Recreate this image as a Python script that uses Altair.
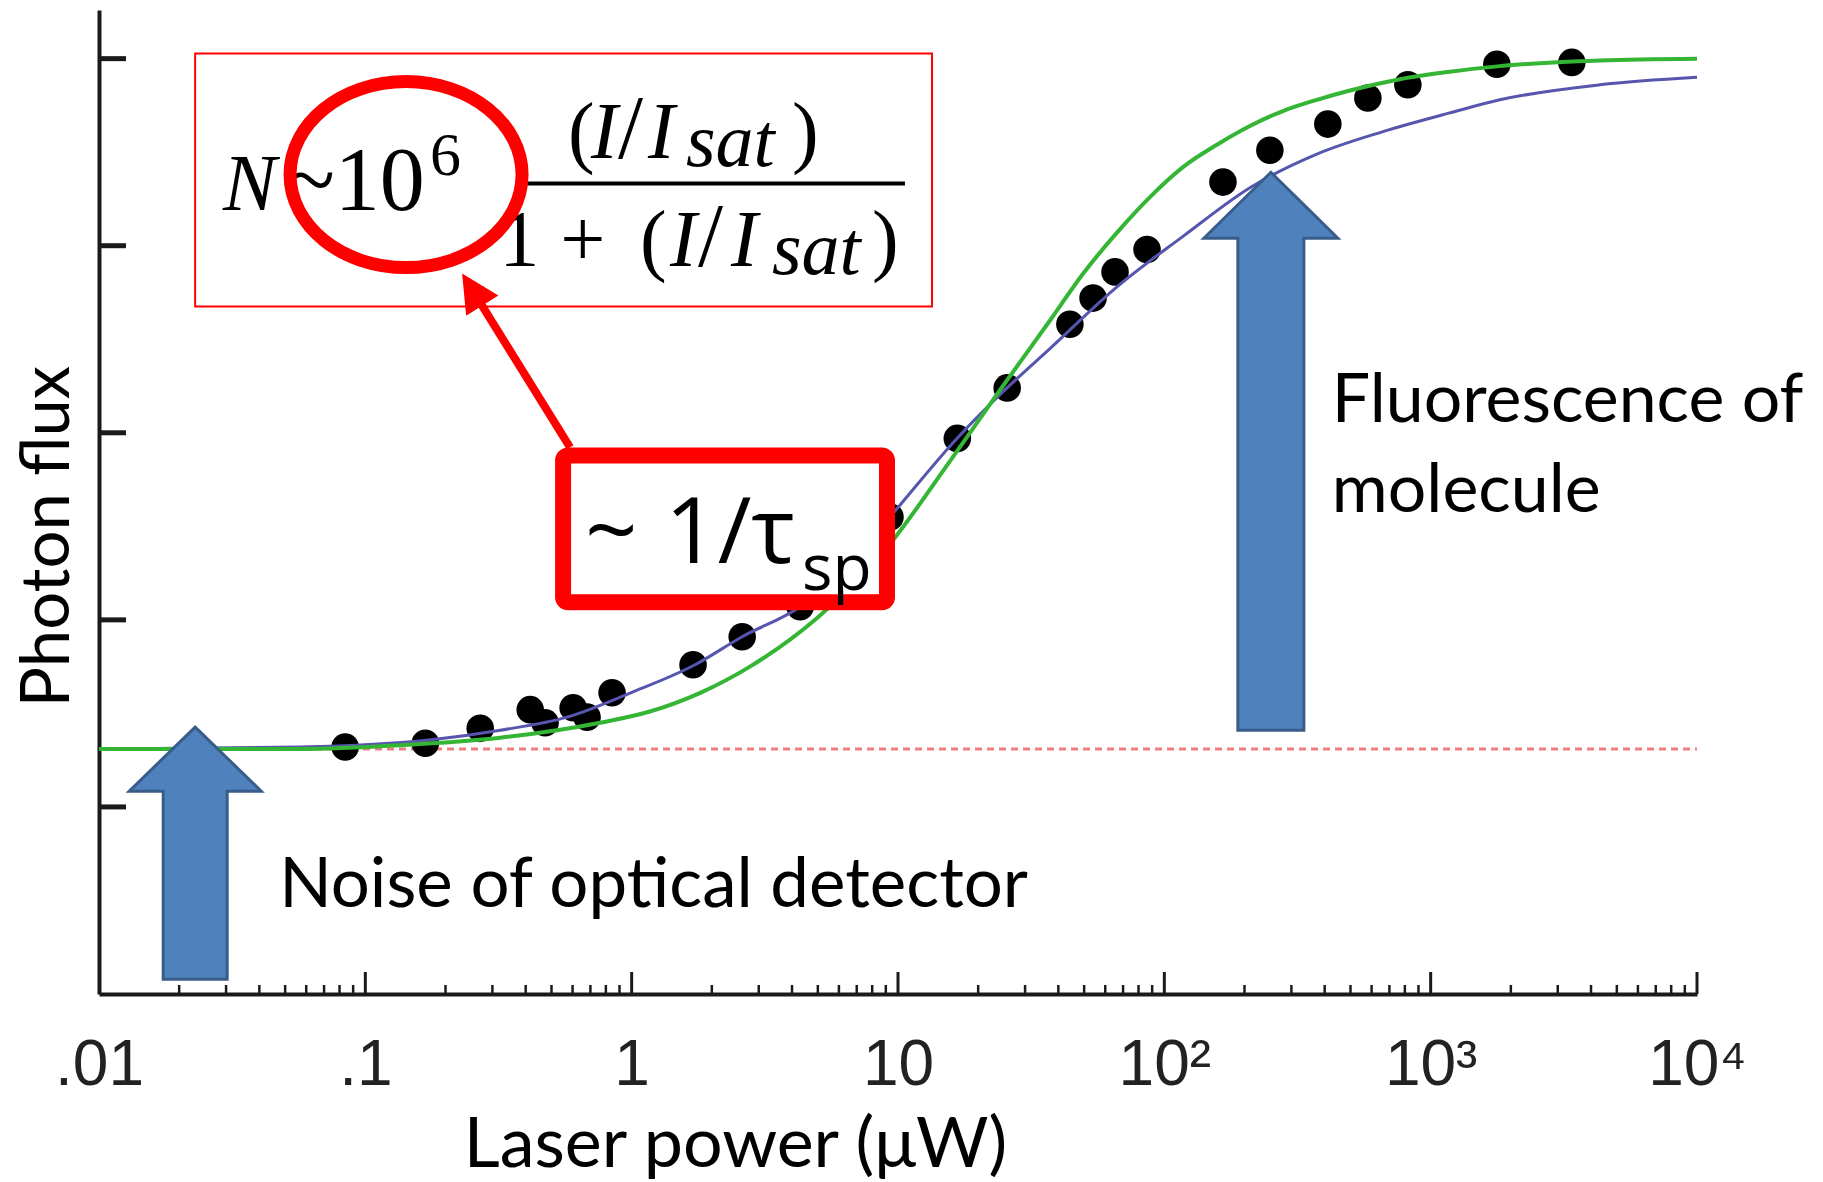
import altair as alt
import pandas as pd

# ---------------- values ----------------
dot_power = [0.084, 0.168, 0.270, 0.416, 0.473, 0.603, 0.680, 0.844, 1.70, 2.60, 4.29,
             9.33, 16.7, 25.7, 44.2, 54.0, 65.3, 86.1, 166, 249, 411, 581, 821, 1772, 3388]
dot_flux = [1.32, 1.34, 1.42, 1.52, 1.45, 1.53, 1.48, 1.61, 1.76, 1.91, 2.07,
            2.55, 2.97, 3.24, 3.58, 3.72, 3.86, 3.98, 4.34, 4.51, 4.65, 4.79, 4.86, 4.97, 4.98]

green_power = [0.01, 0.024, 0.0569, 0.135, 0.321, 0.761, 1.17, 1.81, 2.78, 4.97, 8.79, 15.7,
               24.2, 37.2, 49.5, 66.4, 88.3, 117.5, 157.6, 209.6, 278.7, 374, 497.5, 766,
               1181, 1819, 4317, 10000]
green_flux = [1.31, 1.31, 1.31, 1.33, 1.37, 1.45, 1.51, 1.61, 1.75, 2.01, 2.36, 2.85,
              3.23, 3.60, 3.85, 4.07, 4.26, 4.42, 4.54, 4.64, 4.72, 4.78, 4.83, 4.89,
              4.93, 4.96, 4.99, 5.00]

blue_power = [0.01, 0.0569, 0.180, 0.321, 0.572, 0.991, 1.73, 2.60, 4.29, 6.60, 9.33, 16.65,
              25.66, 37.2, 66.4, 117.5, 209.6, 374, 662, 1181, 1819, 4317, 10000]
blue_flux = [1.31, 1.32, 1.36, 1.41, 1.48, 1.61, 1.76, 1.91, 2.07, 2.30, 2.55, 2.97,
             3.24, 3.45, 3.78, 4.05, 4.31, 4.49, 4.61, 4.71, 4.78, 4.86, 4.90]

noise_level = 1.31

x_tick_values = [0.01, 0.1, 1, 10, 100, 1000, 10000]
x_tick_labels = [".01", ".1", "1", "10", "10²", "10³", "10⁴"]
x_major_ticks = [0.1, 1, 10, 100, 1000, 10000]
x_minor_ticks = [k * 10.0 ** d for d in range(-2, 4) for k in range(2, 10)]
y_ticks = [1, 2, 3, 4, 5]

X_DOMAIN = [0.01, 10000]
Y_DOMAIN = [0, 5.26]

# annotation anchors (in data units: laser power, photon flux)
formula_box = {"x1": [0.02296], "x2": [13.42], "y1": [5.027], "y2": [3.675]}
fraction_bar = {"x1": [0.3649], "x2": [10.62], "y": [4.332]}
ellipse_center = {"x": [0.1422], "y": [4.380]}
tau_box = {"x1": [0.5527], "x2": [9.093], "y1": [2.879], "y2": [2.094]}
red_arrow = {"x1": [0.587], "y1": [2.922], "x2": [0.2624], "y2": [3.724]}
red_tip = {"x": [0.2309], "y": [3.852]}
noise_arrow = {"x": [0.02297], "y": [0.753]}
fluor_arrow = {"x": [251.2], "y": [2.901]}

formula_text = ["N", "~10", "6",
                "(", "I", "/", "I", "sat", ")",
                "1", "+", "(", "I", "/", "I", "sat", ")"]
formula_x = [0.02924, 0.05043, 0.175,
             0.5771, 0.7040, 0.8890, 1.152, 1.600, 4.001,
             0.3184, 0.5395, 1.075, 1.394, 1.775, 2.361, 3.365, 7.99]
formula_y = [4.193, 4.193, 4.380,
             4.471, 4.471, 4.471, 4.471, 4.428, 4.471,
             3.894, 3.894, 3.894, 3.894, 3.894, 3.894, 3.851, 3.894]
formula_size = [80, 90, 62,
                80, 80, 90, 80, 76, 80,
                80, 80, 80, 80, 90, 80, 76, 80]
formula_italic = [True, False, False,
                  False, True, False, True, True, False,
                  False, False, False, True, False, True, True, False]

tau_text = ["~", "1/τ", "sp"]
tau_x = [0.6683, 1.335, 4.361]
tau_y = [2.302, 2.302, 2.158]
tau_size = [92, 92, 64]

note_text = ["Noise of optical detector", "Fluorescence of", "molecule"]
note_x = [0.04746, 425.6, 425.6]
note_y = [0.4647, 3.056, 2.575]
note_size = [69, 68, 68]

# ---------------- chart ----------------
W, H = 1598, 984
xs = alt.Scale(type="log", domain=X_DOMAIN, nice=False)
ys = alt.Scale(domain=Y_DOMAIN, nice=False, zero=False)

label_js = "[" + ",".join("'" + s + "'" for s in x_tick_labels) + "]"
label_expr = label_js + "[round(log(datum.value)/LN10)+2]"

x_axis = alt.Axis(
    values=x_tick_values, labelExpr=label_expr, ticks=False, tickSize=0, grid=False,
    domainColor="#1a1a1a", domainWidth=4, labelFont="Liberation Sans", labelFontSize=64,
    labelColor="#222222", labelPadding=39, labelFlush=False, labelOverlap=False,
    title="Laser power (μW)", titleFont="Lato", titleFontSize=70, titleFontWeight="normal",
    titleColor="#000000", titleX=636, titleY=172, titleAlign="center",
    titleBaseline="alphabetic",
)
y_axis = alt.Axis(
    values=y_ticks, labels=False, ticks=False, tickSize=0, grid=False,
    domainColor="#1a1a1a", domainWidth=4,
    title="Photon flux", titleFont="Lato", titleFontSize=67, titleFontWeight="normal",
    titleColor="#000000", titleAngle=270, titleX=-31, titleY=526, titleAlign="center",
    titleBaseline="alphabetic",
)


def ex(field):
    return alt.X(field, type="quantitative", scale=xs, axis=x_axis)


def ey(field):
    return alt.Y(field, type="quantitative", scale=ys, axis=y_axis)


noise = alt.Chart(pd.DataFrame({"x1": [X_DOMAIN[0]], "x2": [X_DOMAIN[1]], "y": [noise_level]})).mark_rule(
    color="#EE7F7F", strokeWidth=3, strokeDash=[7, 5]
).encode(x=ex("x1"), x2="x2:Q", y=ey("y"))

dots = alt.Chart(pd.DataFrame({"power": dot_power, "flux": dot_flux})).mark_circle(
    size=760, color="#000000", opacity=1
).encode(x=ex("power"), y=ey("flux"))

blue_line = alt.Chart(pd.DataFrame({"power": blue_power, "flux": blue_flux})).mark_line(
    color="#5656AE", strokeWidth=3, interpolate="monotone"
).encode(x=ex("power"), y=ey("flux"))

green_line = alt.Chart(pd.DataFrame({"power": green_power, "flux": green_flux})).mark_line(
    color="#34B534", strokeWidth=4, interpolate="monotone"
).encode(x=ex("power"), y=ey("flux"))

ytick = alt.Chart(pd.DataFrame({"flux": y_ticks})).mark_rule(color="#1a1a1a", strokeWidth=5).encode(
    y=ey("flux"), x=alt.value(0), x2=alt.value(27)
)
xtick_major = alt.Chart(pd.DataFrame({"power": x_major_ticks})).mark_rule(
    color="#1a1a1a", strokeWidth=3
).encode(x=ex("power"), y=alt.value(H), y2=alt.value(H - 22))
xtick_minor = alt.Chart(pd.DataFrame({"power": x_minor_ticks})).mark_rule(
    color="#1a1a1a", strokeWidth=2.5
).encode(x=ex("power"), y=alt.value(H), y2=alt.value(H - 9))

fbox = alt.Chart(pd.DataFrame(formula_box)).mark_rect(
    fill="white", stroke="#FF0000", strokeWidth=2
).encode(x=ex("x1"), x2="x2:Q", y=ey("y1"), y2="y2:Q")

fbar = alt.Chart(pd.DataFrame(fraction_bar)).mark_rule(color="#000000", strokeWidth=4).encode(
    x=ex("x1"), x2="x2:Q", y=ey("y")
)

fdf = pd.DataFrame({"t": formula_text, "x": formula_x, "y": formula_y,
                    "fs": formula_size, "it": formula_italic})
f_up = alt.Chart(fdf[~fdf["it"]]).mark_text(
    font="Liberation Serif", align="left", baseline="alphabetic", color="#000000"
).encode(x=ex("x"), y=ey("y"), text="t:N", size=alt.Size("fs:Q", scale=None, legend=None))
f_it = alt.Chart(fdf[fdf["it"]]).mark_text(
    font="Liberation Serif", fontStyle="italic", align="left", baseline="alphabetic", color="#000000"
).encode(x=ex("x"), y=ey("y"), text="t:N", size=alt.Size("fs:Q", scale=None, legend=None))

tbox = alt.Chart(pd.DataFrame(tau_box)).mark_rect(
    fill="white", stroke="#FF0000", strokeWidth=16, cornerRadius=5
).encode(x=ex("x1"), x2="x2:Q", y=ey("y1"), y2="y2:Q")

tdf = pd.DataFrame({"t": tau_text, "x": tau_x, "y": tau_y, "fs": tau_size})
ttext = alt.Chart(tdf).mark_text(
    font="Open Sans", align="left", baseline="alphabetic", color="#000000"
).encode(x=ex("x"), y=ey("y"), text="t:N", size=alt.Size("fs:Q", scale=None, legend=None))

rline = alt.Chart(pd.DataFrame(red_arrow)).mark_rule(color="#FF0000", strokeWidth=8).encode(
    x=ex("x1"), x2="x2:Q", y=ey("y1"), y2="y2:Q"
)
rhead = alt.Chart(pd.DataFrame(red_tip)).mark_point(
    shape="M 0 0 L 19 38 L -19 38 Z", size=4, filled=True, color="#FF0000", opacity=1, angle=328
).encode(x=ex("x"), y=ey("y"))

ring = alt.Chart(pd.DataFrame(ellipse_center)).mark_point(
    shape="M -116 0 A 116 93 0 1 0 116 0 A 116 93 0 1 0 -116 0 Z",
    size=4, filled=False, color="#FF0000", strokeWidth=13, opacity=1
).encode(x=ex("x"), y=ey("y"))

arrow_style = dict(size=4, filled=True, fill="#4F81BD", stroke="#385D8A", strokeWidth=3, opacity=1)
arrow_left = alt.Chart(pd.DataFrame(noise_arrow)).mark_point(
    shape="M -32 126 L -32 -62 L -66 -62 L 0 -126 L 66 -62 L 32 -62 L 32 126 Z", **arrow_style
).encode(x=ex("x"), y=ey("y"))
arrow_right = alt.Chart(pd.DataFrame(fluor_arrow)).mark_point(
    shape="M -33 279 L -33 -213 L -67 -213 L 0 -279 L 67 -213 L 33 -213 L 33 279 Z", **arrow_style
).encode(x=ex("x"), y=ey("y"))

ndf = pd.DataFrame({"t": note_text, "x": note_x, "y": note_y, "fs": note_size})
notes = alt.Chart(ndf).mark_text(
    font="Lato", align="left", baseline="alphabetic", color="#000000"
).encode(x=ex("x"), y=ey("y"), text="t:N", size=alt.Size("fs:Q", scale=None, legend=None))

chart = alt.layer(
    noise, dots, blue_line, green_line, ytick, xtick_major, xtick_minor,
    fbox, fbar, f_up, f_it, tbox, ttext, rline, rhead, ring,
    arrow_left, arrow_right, notes,
).properties(
    width=W, height=H,
    autosize=alt.AutoSizeParams(type="none"),
    padding={"left": 99, "top": 10, "right": 126, "bottom": 188},
    background="white",
).configure_view(stroke=None)

chart.save("out.html", embed_options={"renderer": "svg", "actions": False})
